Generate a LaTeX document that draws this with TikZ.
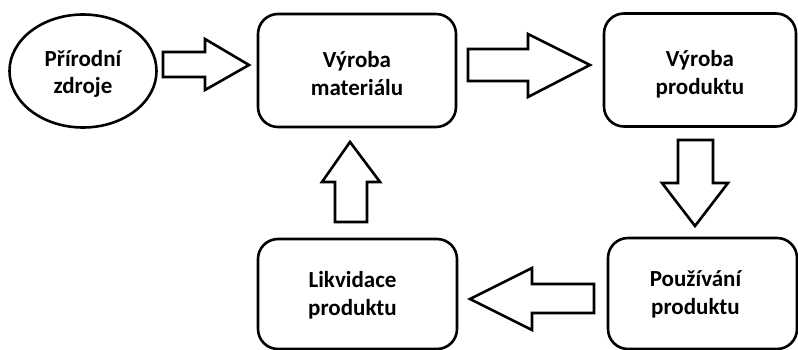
\documentclass[tikz,border=0pt]{standalone}
\usepackage{fontspec}
\setmainfont{Carlito}
\usetikzlibrary{shapes.geometric}
\begin{document}
\begin{tikzpicture}[x=1pt,y=-1pt,
  lw/.style={line width=2.6pt},
  stage/.style={lw,draw=black,rounded corners=20pt},
  source/.style={lw,draw=black,ellipse},
  caption/.style={align=center,inner sep=0pt,
    font=\fontsize{23}{27.5}\selectfont\bfseries},
  blockarrow/.style={lw,draw=black,fill=white,line join=miter}]
\useasboundingbox (0,0) rectangle (798,350);
\clip (0,0) rectangle (798,350);

% outlines of the stages
\node[source,minimum width=147pt,minimum height=113pt] (zdroje) at (83,71) {};
\node[stage,minimum width=198pt,minimum height=113pt] (material) at (357,70.5) {};
\node[stage,minimum width=192pt,minimum height=113pt] (vyrobaP) at (700,70) {};
\node[stage,minimum width=199pt,minimum height=110pt] (likvidace) at (357.5,294) {};
\node[stage,minimum width=189pt,minimum height=111pt] (pouzivani) at (702.5,293.5) {};

% captions, a little below the centre of each outline
\node[caption] (zdroje-t) at ([yshift=-3pt]zdroje.center) {Přírodní\\zdroje};
\node[caption] (material-t) at ([yshift=-3pt]material.center) {Výroba\\materiálu};
\node[caption] (vyrobaP-t) at ([yshift=-4pt]vyrobaP.center) {Výroba\\produktu};
\node[caption] (likvidace-t) at ([xshift=-5pt,yshift=-1pt]likvidace.center) {Likvidace\\produktu};
\node[caption] (pouzivani-t) at ([xshift=-7pt,yshift=-1pt]pouzivani.center) {Používání\\produktu};

% block arrows between the stages
\draw[blockarrow] (163,52) -- (205,52) -- (205,39) -- (249,65) -- (205,90) -- (205,77) -- (163,77) -- cycle;
\draw[blockarrow] (468,49) -- (528,49) -- (528,34) -- (590,65) -- (528,97) -- (528,81) -- (468,81) -- cycle;
\draw[blockarrow] (678,140) -- (713,140) -- (713,183) -- (728,183) -- (695,226) -- (662,183) -- (678,183) -- cycle;
\draw[blockarrow] (594,284) -- (532,284) -- (532,268) -- (470,299) -- (532,330) -- (532,313) -- (594,313) -- cycle;
\draw[blockarrow] (335,222) -- (335,182) -- (322,182) -- (350,142) -- (380,182) -- (367,182) -- (367,222) -- cycle;
\end{tikzpicture}
\end{document}
